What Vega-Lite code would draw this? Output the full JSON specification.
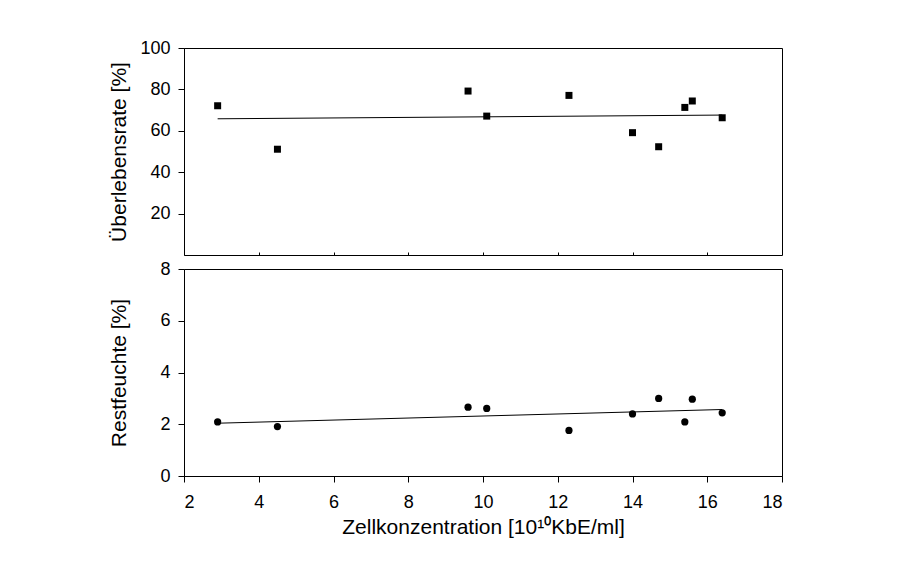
{
  "$schema": "https://vega.github.io/schema/vega-lite/v6.json",
  "padding": {"left": 107, "top": 38, "right": 5, "bottom": 5},
  "background": "white",
  "spacing": 3,
  "config": {
    "font": "Liberation Sans",
    "view": {"stroke": "black", "strokeWidth": 1},
    "axis": {
      "labelFont": "Liberation Sans",
      "titleFont": "Liberation Sans",
      "labelFontSize": 18,
      "titleFontSize": 21,
      "titleFontWeight": "normal",
      "labelColor": "black",
      "titleColor": "black",
      "domainColor": "black",
      "tickColor": "black",
      "grid": false,
      "tickSize": 6,
      "labelPadding": 8
    }
  },
  "datasets": {
    "surv": [
      {"x": 2.9, "y": 72.1},
      {"x": 4.5, "y": 51.1},
      {"x": 9.6, "y": 79.2},
      {"x": 10.1, "y": 67.1},
      {"x": 12.3, "y": 77.1},
      {"x": 14.0, "y": 59.1},
      {"x": 14.7, "y": 52.3},
      {"x": 15.4, "y": 71.3},
      {"x": 15.6, "y": 74.4},
      {"x": 16.4, "y": 66.3}
    ],
    "survfit": [
      {"x": 2.9, "y": 65.8},
      {"x": 16.4, "y": 67.6}
    ],
    "moist": [
      {"x": 2.9, "y": 2.09},
      {"x": 4.5, "y": 1.91},
      {"x": 9.6, "y": 2.66},
      {"x": 10.1, "y": 2.61},
      {"x": 12.3, "y": 1.76},
      {"x": 14.0, "y": 2.40},
      {"x": 14.7, "y": 3.0},
      {"x": 15.4, "y": 2.09},
      {"x": 15.6, "y": 2.97},
      {"x": 16.4, "y": 2.44}
    ],
    "moistfit": [
      {"x": 2.9, "y": 2.04},
      {"x": 16.4, "y": 2.57}
    ]
  },
  "vconcat": [
    {
      "width": 598,
      "height": 207,
      "encoding": {
        "x": {
          "field": "x",
          "type": "quantitative",
          "scale": {"domain": [2, 18], "nice": false, "zero": false},
          "axis": {"labels": false, "title": null, "domain": false, "offset": -3, "tickSize": 3, "values": [4, 6, 8, 10, 12, 14, 16]}
        },
        "y": {
          "field": "y",
          "type": "quantitative",
          "scale": {"domain": [0, 100], "nice": false},
          "axis": {"values": [20, 40, 60, 80, 100], "title": "Überlebensrate [%]", "titleX": -55}
        }
      },
      "layer": [
        {"data": {"name": "surv"}, "mark": {"type": "square", "size": 49, "color": "black", "opacity": 1, "filled": true}},
        {"data": {"name": "survfit"}, "mark": {"type": "line", "color": "black", "strokeWidth": 1}}
      ]
    },
    {
      "width": 598,
      "height": 207,
      "encoding": {
        "x": {
          "field": "x",
          "type": "quantitative",
          "scale": {"domain": [2, 18], "nice": false, "zero": false},
          "axis": {"values": [2, 4, 6, 8, 10, 12, 14, 16, 18], "title": "Zellkonzentration [10¹⁰KbE/ml]", "labelPadding": 11, "titlePadding": 5}
        },
        "y": {
          "field": "y",
          "type": "quantitative",
          "scale": {"domain": [0, 8], "nice": false},
          "axis": {"values": [0, 2, 4, 6, 8], "title": "Restfeuchte [%]", "titleX": -55}
        }
      },
      "layer": [
        {"data": {"name": "moist"}, "mark": {"type": "circle", "size": 52, "color": "black", "opacity": 1}},
        {"data": {"name": "moistfit"}, "mark": {"type": "line", "color": "black", "strokeWidth": 1}}
      ]
    }
  ]
}
